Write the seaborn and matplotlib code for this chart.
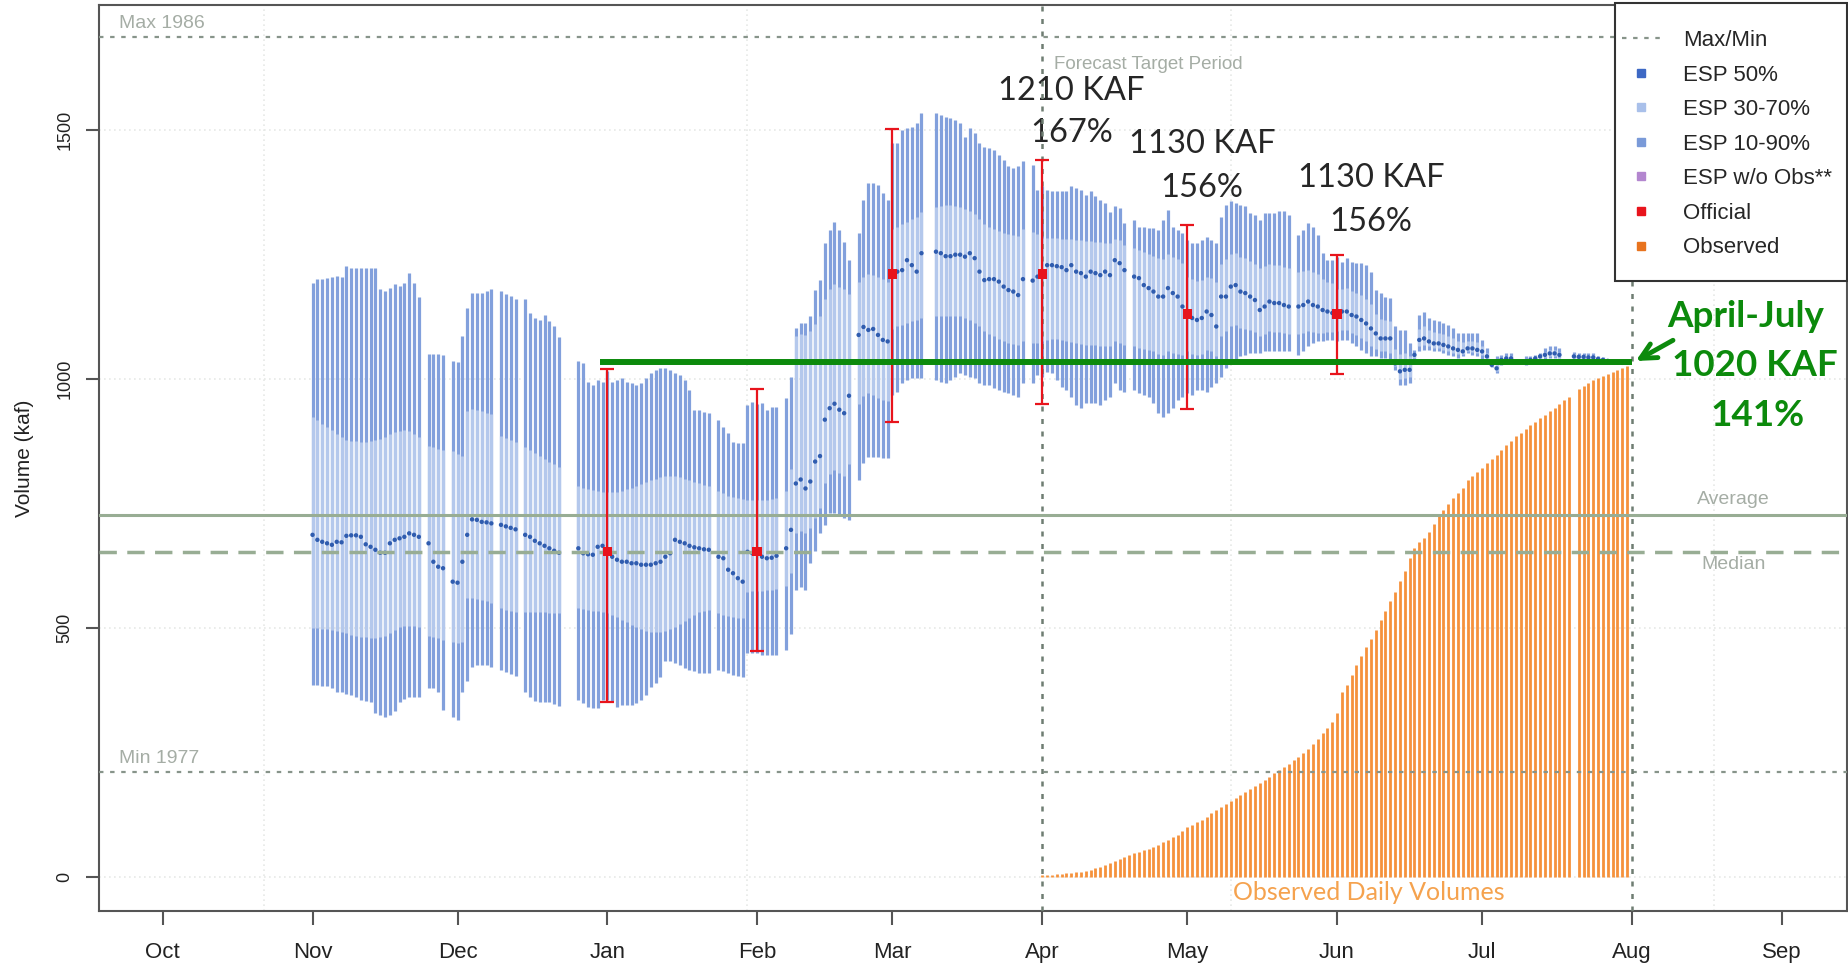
import numpy as np
import pandas as pd
import seaborn as sns
import matplotlib.pyplot as plt
from matplotlib.lines import Line2D
from matplotlib.patches import Rectangle

# x axis is "days since Oct 1"
month_days = [0, 31, 61, 92, 123, 151, 182, 212, 243, 273, 304, 335]
month_names = ['Oct', 'Nov', 'Dec', 'Jan', 'Feb', 'Mar', 'Apr', 'May', 'Jun', 'Jul', 'Aug', 'Sep']
grid_days = [21, 121, 221, 321]

esp_first_day = 31    # Nov 1
obs_first_day = 182   # Apr 1

# ESP daily exceedance values (kaf), Nov 1 .. Jul 31, None = no forecast that day
p90 = [
    # Nov
    1193, 1201, 1201, 1202, 1204, 1206, 1204, 1226, 1223, 1222, 1222, 1222, 1222, 1223, 1181,
    1176, 1183, 1190, 1186, 1193, 1213, 1193, 1165, None, 1049, 1049, 1049, 1047, None, 1036,
    # Dec
    1033, 1086, 1143, 1172, 1172, 1172, 1176, 1181, None, 1176, 1171, 1166, 1161, None, 1161, 1133,
    1122, 1118, 1129, 1115, 1106, 1083, None, None, None, 1035, 1031, 994, 988, 998, 994,
    # Jan
    1015, 994, 998, 1001, 994, 991, 988, 991, 1001, 1011, 1018, 1021, 1021, 1018, 1011, 1008,
    998, 978, 938, 938, 934, 932, None, 917, 904, 891, 874, 872, 872, 948, 954,
    # Feb
    950, 951, 938, 944, 944, None, 961, 1004, 1101, 1111, 1111, 1125, 1178, 1198, 1272, 1299,
    1315, 1299, 1275, 1239, None, 1292, 1359, 1392, 1392, 1389, 1372, 1359,
    # Mar
    1473, 1473, 1499, 1503, 1506, 1513, 1533, None, None, 1533, 1529, 1526, 1523, 1519, 1513, 1486,
    1503, 1493, 1473, 1466, 1463, 1459, 1449, 1439, 1426, 1422, 1426, 1436, None, 1429, 1379,
    # Apr
    1386, 1379, 1376, 1376, 1376, 1376, 1386, 1382, 1379, 1369, 1376, 1366, 1359, 1352, 1335,
    1346, 1342, 1312, None, 1319, 1305, 1305, 1302, 1302, 1299, 1319, 1339, 1305, 1299, 1292,
    # May
    1279, 1272, 1272, 1279, 1285, 1279, 1272, 1325, 1349, 1356, 1352, 1349, 1346, 1332, 1329, 1319,
    1332, 1332, 1332, 1336, 1336, 1329, None, 1289, 1299, 1312, 1305, 1289, 1252, 1239, 1239,
    # Jun
    1245, 1235, 1242, 1235, 1232, 1232, 1228, 1215, 1178, 1172, 1165, 1162, 1105, 1098, 1098,
    1071, 1058, 1128, 1135, 1122, 1118, 1115, 1111, 1108, 1101, 1091, 1091, 1091, 1091, 1091,
    # Jul
    1078, 1061, 1038, 1045, 1048, 1051, 1051, None, None, 1045, 1046, 1048, 1051, 1061, 1065, 1065,
    1061, None, None, 1054, 1052, 1052, 1051, 1051, 1045, 1043, 1040, 1038, 1036, 1035, 1035,
]

p70 = [
    924, 918, 910, 903, 897, 890, 884, 878, 876, 875, 874, 874, 875, 877, 880,
    884, 889, 893, 896, 898, 895, 890, 884, None, 866, 864, 860, 857, None, 855,
    850, 845, 936, 940, 938, 935, 932, 930, None, 886, 882, 878, 874, None, 864, 858,
    852, 846, 840, 834, 829, 824, None, None, None, 784, 780, 778, 776, 774, 772,
    772, 772, 773, 775, 778, 781, 784, 788, 792, 796, 800, 804, 806, 806, 805, 803,
    800, 797, 793, 790, 787, 784, None, 775, 770, 765, 762, 760, 758, 757, 757,
    757, 757, 757, 758, 760, None, 775, 820, 1085, 1090, 1088, 1095, 1110, 1125, 1160, 1180,
    1190, 1185, 1180, 1170, None, 1195, 1205, 1210, 1208, 1205, 1200, 1195,
    1300, 1305, 1310, 1315, 1320, 1325, 1335, None, None, 1345, 1347, 1348, 1348, 1346, 1344, 1340,
    1336, 1330, 1320, 1310, 1305, 1300, 1296, 1292, 1290, 1288, 1286, 1300, None, 1295, 1290,
    1282, 1283, 1283, 1282, 1281, 1280, 1280, 1279, 1278, 1276, 1276, 1275, 1274, 1273, 1272,
    1280, 1278, 1268, None, 1262, 1258, 1255, 1250, 1246, 1242, 1240, 1250, 1245, 1240, 1232,
    1205, 1200, 1196, 1198, 1205, 1202, 1195, 1230, 1240, 1250, 1252, 1245, 1242, 1236, 1230, 1222,
    1226, 1230, 1228, 1228, 1225, 1222, None, 1215, 1216, 1218, 1214, 1210, 1200, 1195, 1192,
    1180, 1180, 1182, 1176, 1172, 1168, 1160, 1150, 1130, 1120, 1118, 1116, 1060, 1050, 1052,
    1045, 1052, 1100, 1105, 1098, 1094, 1092, 1090, 1086, 1081, 1076, 1073, 1075, 1075, 1073,
    1065, 1052, 1032, 1030, 1042, 1045, 1045, None, None, 1039, 1041, 1044, 1047, 1054, 1058, 1058,
    1054, None, None, 1049, 1048, 1048, 1047, 1047, 1042, 1040, 1038, 1036, 1035, 1034, 1034,
]

p50 = [
    687, 677, 673, 670, 667, 673, 672, 685, 686, 686, 683, 668, 663, 657, 651,
    651, 670, 677, 680, 683, 690, 687, 683, None, 670, 633, 623, 620, None, 593,
    591, 633, 687, 718, 717, 713, 712, 710, None, 707, 704, 701, 698, None, 687, 683,
    675, 670, 665, 660, 655, 651, None, None, None, 660, 650, 648, 647, 663, 665,
    657, 643, 637, 633, 633, 630, 630, 627, 627, 627, 630, 633, 643, 650, 677, 673,
    670, 665, 662, 660, 658, 657, None, 643, 640, 617, 610, 600, 593, 653, 650,
    653, 643, 640, 641, 645, None, 660, 697, 790, 798, 780, 794, 834, 845, 918, 941,
    950, 938, 931, 966, None, 1088, 1104, 1098, 1100, 1088, 1078, 1075,
    1208, 1215, 1218, 1238, 1228, 1215, 1252, None, None, 1255, 1252, 1246, 1246, 1249, 1249, 1245,
    1252, 1242, 1215, 1198, 1200, 1200, 1195, 1185, 1178, 1175, 1168, 1200, None, 1197, 1205,
    1210, 1228, 1228, 1226, 1224, 1218, 1228, 1215, 1212, 1205, 1215, 1212, 1208, 1215, 1208,
    1238, 1232, 1218, None, 1205, 1202, 1188, 1182, 1175, 1165, 1165, 1182, 1172, 1165, 1145,
    1131, 1122, 1118, 1122, 1135, 1128, 1105, 1165, 1165, 1185, 1188, 1175, 1172, 1165, 1158, 1138,
    1145, 1155, 1152, 1152, 1148, 1145, None, 1145, 1148, 1155, 1148, 1145, 1138, 1135, 1132,
    1131, 1135, 1135, 1128, 1125, 1118, 1111, 1101, 1091, 1081, 1081, 1081, 1031, 1015, 1018,
    1018, 1048, 1078, 1081, 1075, 1071, 1071, 1068, 1065, 1061, 1058, 1055, 1061, 1061, 1058,
    1055, 1045, 1028, 1021, 1038, 1041, 1041, None, None, 1035, 1038, 1041, 1045, 1048, 1051, 1051,
    1048, None, None, 1045, 1044, 1044, 1043, 1043, 1040, 1038, 1036, 1034, 1033, 1032, 1032,
]

p30 = [
    500, 500, 499, 498, 497, 495, 493, 490, 487, 485, 483, 482, 481, 481, 482,
    485, 490, 496, 502, 505, 505, 504, 502, None, 485, 482, 480, 477, None, 472,
    470, 472, 561, 560, 558, 556, 554, 551, None, 540, 537, 535, 533, None, 533, 533,
    533, 532, 532, 531, 531, 530, None, None, None, 540, 538, 536, 535, 534, 533,
    530, 527, 522, 517, 512, 507, 502, 498, 495, 493, 492, 492, 494, 498, 503, 509,
    515, 521, 527, 532, 535, 536, None, 530, 527, 524, 522, 520, 520, 572, 574,
    574, 575, 576, 577, 578, None, 585, 610, 690, 695, 690, 700, 720, 740, 790, 810,
    818, 812, 806, 830, None, 950, 965, 972, 968, 962, 958, 955,
    1100, 1105, 1108, 1112, 1115, 1118, 1122, None, None, 1125, 1126, 1127, 1127, 1126, 1125, 1122,
    1118, 1112, 1105, 1095, 1090, 1085, 1080, 1075, 1072, 1070, 1068, 1075, None, 1072, 1072,
    1075, 1078, 1080, 1080, 1078, 1076, 1074, 1072, 1070, 1068, 1068, 1067, 1066, 1066, 1066,
    1075, 1072, 1068, None, 1065, 1062, 1060, 1058, 1055, 1050, 1048, 1055, 1052, 1050, 1048,
    1055, 1050, 1048, 1050, 1058, 1055, 1045, 1085, 1095, 1105, 1108, 1102, 1100, 1097, 1093, 1085,
    1090, 1095, 1094, 1094, 1092, 1090, None, 1090, 1092, 1096, 1094, 1092, 1092, 1093, 1094,
    1095, 1098, 1098, 1092, 1088, 1082, 1075, 1066, 1060, 1055, 1055, 1052, 1025, 1000, 1002,
    1003, 1042, 1065, 1068, 1065, 1062, 1062, 1058, 1056, 1052, 1050, 1050, 1055, 1054, 1052,
    1048, 1040, 1026, 1016, 1034, 1036, 1036, None, None, 1032, 1034, 1037, 1040, 1043, 1046, 1046,
    1044, None, None, 1040, 1040, 1040, 1039, 1039, 1036, 1035, 1033, 1032, 1031, 1030, 1030,
]

p10 = [
    386, 386, 383, 383, 379, 372, 372, 368, 365, 361, 356, 354, 351, 329, 326,
    322, 326, 333, 351, 358, 361, 361, 361, None, 379, 379, 372, 336, None, 322,
    315, 372, 393, 422, 425, 425, 425, 422, None, 415, 411, 408, 404, None, 372, 361,
    354, 351, 351, 351, 347, 343, None, None, None, 356, 349, 342, 339, 339, 356,
    356, 352, 342, 346, 346, 346, 349, 356, 366, 382, 389, 402, 433, 433, 429, 426,
    419, 416, 413, 409, 409, 409, None, 416, 413, 409, 406, 404, 402, 449, 449,
    449, 446, 446, 446, 446, None, 456, 489, 576, 583, 576, 630, 655, 690, 707, 730,
    730, 724, 720, 717, None, 797, 831, 844, 844, 844, 841, 841,
    968, 974, 991, 998, 1001, 1001, 1001, None, None, 998, 994, 991, 998, 1004, 1011, 1008,
    1004, 1001, 991, 988, 988, 981, 978, 974, 971, 968, 964, 991, None, 991, 1008,
    1004, 1014, 1011, 998, 984, 978, 964, 948, 941, 951, 951, 951, 948, 958, 964,
    991, 978, 974, None, 978, 971, 968, 964, 951, 931, 924, 931, 941, 958, 964,
    971, 968, 978, 978, 974, 984, 991, 1004, 1021, 1031, 1038, 1045, 1048, 1051, 1051, 1051,
    1055, 1055, 1055, 1055, 1055, 1055, None, 1048, 1055, 1065, 1071, 1075, 1075, 1078, 1078,
    1075, 1078, 1078, 1071, 1065, 1058, 1051, 1045, 1045, 1041, 1041, 1038, 1018, 988, 988,
    991, 1038, 1055, 1058, 1058, 1055, 1055, 1051, 1048, 1045, 1041, 1045, 1051, 1048, 1045,
    1038, 1035, 1024, 1011, 1028, 1031, 1031, None, None, 1028, 1031, 1033, 1035, 1038, 1041, 1041,
    1041, None, None, 1035, 1035, 1035, 1034, 1034, 1033, 1032, 1031, 1030, 1030, 1029, 1029,
]

# observed cumulative volume since Apr 1 (kaf), Apr 1 .. Jul 31
observed = [
    4, 5, 5, 6, 7, 8, 9, 10, 11, 13, 15, 18, 21, 25, 29, 33, 37, 41, 45, 48,
    51, 54, 57, 61, 65, 70, 75, 80, 85, 93,
    101, 105, 110, 115, 121, 128, 134, 141, 148, 154, 160, 166, 172, 178, 184, 190,
    196, 202, 209, 215, 222, 228, 235, 242, 250, 258, 267, 278, 289, 300, 312,
    329, 372, 386, 405, 425, 443, 461, 479, 497, 516, 535, 554, 573, 595, 615,
    640, 660, 672, 680, 693, 708, 724, 736, 748, 760, 770, 780, 797, 805, 813,
    822, 831, 840, 848, 857, 867, 876, 885, 892, 899, 907, 914, 921, 928, 935, 942,
    950, 957, 964, None, 980, 986, 992, 998, 1002, 1006, 1010, 1014, 1017, 1021, 1025,
]

# official forecasts (first of month)
official_days = [92, 123, 151, 182, 212, 243]
official_vol = [653, 653, 1210, 1210, 1130, 1130]
official_lo = [352, 453, 914, 949, 939, 1009]
official_hi = [1019, 979, 1501, 1439, 1309, 1249]

max_vol, min_vol = 1685, 211
average_vol, median_vol = 727, 652
target_start, target_end = 182, 304
final_vol = 1033
final_line_start = 90.5

official_notes = [('1210 KAF', '167%', 188, 1578, 1493),
                  ('1130 KAF', '156%', 215, 1471, 1382),
                  ('1130 KAF', '156%', 250, 1403, 1315)]
final_notes = [('April-July', 327.5, 1126), ('1020 KAF', 329.5, 1027), ('141%', 330, 927)]

esp_dark = '#82a0dc'
esp_light = '#b4c8ec'
esp_dot = '#2f5caf'
red = '#e8141c'
obs_color = '#f5923c'
ref_gray = '#87948a'
avg_color = '#98ad94'
label_gray = '#a5ada5'
green = '#0c8a0c'

esp = pd.DataFrame({'day': np.arange(esp_first_day, esp_first_day + len(p50)),
                    'p10': p10, 'p30': p30, 'p50': p50, 'p70': p70, 'p90': p90}).astype(float).dropna()
obs = pd.DataFrame({'day': np.arange(obs_first_day, obs_first_day + len(observed)),
                    'vol': observed}).astype(float).dropna()
off = pd.DataFrame({'day': official_days, 'vol': official_vol, 'lo': official_lo, 'hi': official_hi})

sns.set_style('white')
plt.rcParams['font.family'] = ['Liberation Sans', 'DejaVu Sans']

fig = plt.figure(figsize=(18.49, 9.71), dpi=100)
ax = fig.add_axes([0.0535, 0.0613, 0.9454, 0.9336])

# faint background grid
for gx in grid_days:
    ax.axvline(gx, color='#e6e9e6', lw=1.2, ls=(0, (1, 2)), zorder=0)
for gy in [0, 500, 1000, 1500]:
    ax.axhline(gy, color='#e6e9e6', lw=1.2, ls=(0, (1, 2)), zorder=0)

# ESP ranges and median
ax.vlines(esp['day'], esp['p10'], esp['p90'], color=esp_dark, lw=2.3, zorder=2)
ax.vlines(esp['day'], esp['p30'], esp['p70'], color=esp_light, lw=2.3, zorder=3)
sns.scatterplot(data=esp, x='day', y='p50', color=esp_dot, s=10, edgecolor='none',
                ax=ax, zorder=4, legend=False)

# observed daily volumes
ax.vlines(obs['day'], 0, obs['vol'], color=obs_color, lw=2.0, zorder=2)

# reference lines
ax.axhline(max_vol, color=ref_gray, lw=1.6, ls=(0, (2, 3)), zorder=5)
ax.axhline(min_vol, color=ref_gray, lw=1.6, ls=(0, (2, 3)), zorder=5)
ax.axhline(average_vol, color=avg_color, lw=2.2, zorder=5)
ax.axhline(median_vol, color=avg_color, lw=2.5, ls=(0, (5, 3)), zorder=5)
ax.axvline(target_start, color='#6f7d72', lw=1.8, ls=(0, (2, 3)), zorder=5)
ax.axvline(target_end, color='#6f7d72', lw=1.8, ls=(0, (2, 3)), zorder=5)

# official forecasts
ax.errorbar(off['day'], off['vol'], yerr=[off['vol'] - off['lo'], off['hi'] - off['vol']],
            fmt='none', ecolor=red, elinewidth=1.6, capsize=4.7, capthick=1.6, zorder=6)
sns.scatterplot(data=off, x='day', y='vol', marker='s', s=45, color=red, edgecolor='none',
                ax=ax, zorder=7, legend=False)

# April-July total
ax.hlines(final_vol, final_line_start, target_end, color=green, lw=4.3, zorder=8)
ax.annotate('', xy=(target_end + 0.3, final_vol), xytext=(313, 1080),
            arrowprops=dict(arrowstyle='->', color=green, lw=3.5, mutation_scale=28), zorder=9)
for txt, xv, yv in final_notes:
    ax.text(xv, yv, txt, color=green, fontsize=26.5, fontweight='bold',
            family=['Lato', 'DejaVu Sans'], ha='center', va='center')

for kaf, pct, x, y1, y2 in official_notes:
    ax.text(x, y1, kaf, fontsize=23.5, family=['Lato', 'DejaVu Sans'], ha='center', va='center')
    ax.text(x, y2, pct, fontsize=23.5, family=['Lato', 'DejaVu Sans'], ha='center', va='center')

ax.text(249.5, -31, 'Observed Daily Volumes', color='#f5a24e', fontsize=18,
        family=['Lato', 'DejaVu Sans'], ha='center', va='center')

# grey labels
ax.text(-9.1, 1712, 'Max 1986', color=label_gray, fontsize=14, ha='left', va='center')
ax.text(-9.1, 238, 'Min 1977', color=label_gray, fontsize=14, ha='left', va='center')
ax.text(184.5, 1630, 'Forecast Target Period', color=label_gray, fontsize=13.5, ha='left', va='center')
ax.text(325, 757, 'Average', color=label_gray, fontsize=14, ha='center', va='center')
ax.text(325, 627, 'Median', color=label_gray, fontsize=14, ha='center', va='center')

# axes
ax.set_xlim(-13.2, 348.5)
ax.set_ylim(-68.6, 1750)
ax.set_xticks(month_days, month_names)
ax.set_yticks([0, 500, 1000, 1500])
ax.tick_params(axis='x', bottom=True, length=10, width=1.5, color='#555555', pad=12,
               labelsize=16, labelcolor='#222222')
ax.tick_params(axis='y', left=True, length=9.4, width=1.5, color='#555555', pad=9,
               labelsize=13, labelcolor='#222222')
for lab in ax.get_yticklabels():
    lab.set_rotation(90)
    lab.set_va('center')
ax.set_xlabel('')
ax.set_ylabel('Volume (kaf)', fontsize=15, color='#222222')
ax.yaxis.set_label_coords(-0.037, 0.5)
for sp in ax.spines.values():
    sp.set_color('#555555')
    sp.set_linewidth(1.5)

# legend: own frame, entries placed inside it
frame = Rectangle((1615 / 1849, 1 - 281 / 971), 232 / 1849, 278 / 971, transform=fig.transFigure,
                  facecolor='white', edgecolor='#333333', lw=1.5, zorder=19, clip_on=False)
ax.add_patch(frame)
handles = [
    Line2D([0], [0], color=ref_gray, lw=1.6, ls=(0, (2, 3))),
    Line2D([0], [0], marker='s', ls='', color='#3d68c4', markersize=6),
    Line2D([0], [0], marker='s', ls='', color='#a9c0ea', markersize=6),
    Line2D([0], [0], marker='s', ls='', color='#7a9ad8', markersize=6),
    Line2D([0], [0], marker='s', ls='', color='#b386cf', markersize=6),
    Line2D([0], [0], marker='s', ls='', color='#e8141c', markersize=6),
    Line2D([0], [0], marker='s', ls='', color='#e8731e', markersize=6),
]
labels = ['Max/Min', 'ESP 50%', 'ESP 30-70%', 'ESP 10-90%', 'ESP w/o Obs**', 'Official', 'Observed']
leg = ax.legend(handles, labels, loc='upper left', bbox_to_anchor=(1622 / 1849, 1 - 30 / 971),
                bbox_transform=fig.transFigure, borderaxespad=0, borderpad=0,
                fontsize=16, frameon=False, handlelength=1.7, handletextpad=1.05, labelspacing=0.61)
leg.set_zorder(20)

fig.savefig('out.png', dpi=100)
